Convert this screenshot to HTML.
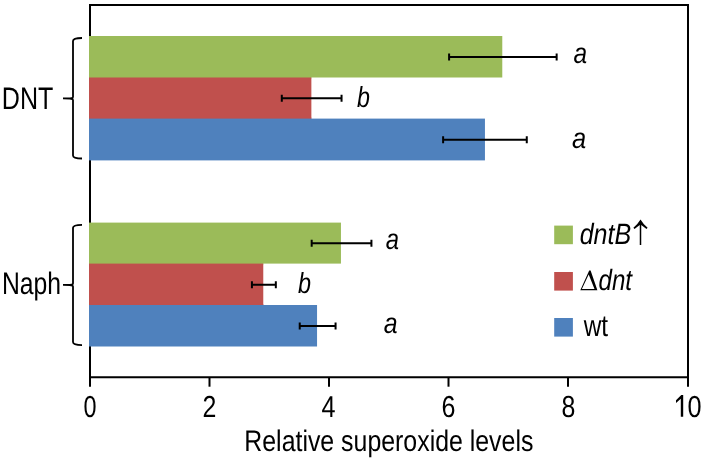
<!DOCTYPE html>
<html><head><meta charset="utf-8"><style>
html,body{margin:0;padding:0;background:#fff;width:705px;height:462px;overflow:hidden}
svg{display:block;will-change:transform}
text{font-family:"Liberation Sans",sans-serif;fill:#000;text-rendering:geometricPrecision}
</style></head><body>
<svg width="705" height="462" viewBox="0 0 705 462">
<rect width="705" height="462" fill="#fff"/>
<path d="M90,377.3 V5 H688 V377.3 H90" fill="none" stroke="#000" stroke-width="2"/>
<line x1="90.00" y1="377" x2="90.00" y2="386.7" stroke="#000" stroke-width="2"/>
<line x1="209.50" y1="377" x2="209.50" y2="386.7" stroke="#000" stroke-width="2"/>
<line x1="329.00" y1="377" x2="329.00" y2="386.7" stroke="#000" stroke-width="2"/>
<line x1="448.50" y1="377" x2="448.50" y2="386.7" stroke="#000" stroke-width="2"/>
<line x1="568.00" y1="377" x2="568.00" y2="386.7" stroke="#000" stroke-width="2"/>
<line x1="688.00" y1="377" x2="688.00" y2="386.7" stroke="#000" stroke-width="2"/>
<rect x="89" y="36" width="413.28" height="41.5" fill="#9BBB59"/>
<rect x="89" y="76.5" width="222.37" height="2" fill="#9BBB59"/>
<rect x="89" y="77.5" width="222.37" height="41.1" fill="#C0504D"/>
<rect x="89" y="117.6" width="222.37" height="2" fill="#C0504D"/>
<rect x="89" y="118.6" width="395.95" height="41.8" fill="#4F81BD"/>
<rect x="89" y="222.6" width="251.95" height="41.0" fill="#9BBB59"/>
<rect x="89" y="262.6" width="174.27" height="2" fill="#9BBB59"/>
<rect x="89" y="263.6" width="174.27" height="41.4" fill="#C0504D"/>
<rect x="89" y="304" width="174.27" height="2" fill="#C0504D"/>
<rect x="89" y="305" width="228.05" height="41.5" fill="#4F81BD"/>
<path d="M449.10,57 H556.65 M449.10,53.5 V60.5 M556.65,53.5 V60.5" stroke="#000" stroke-width="2" fill="none"/>
<path d="M281.80,98.2 H341.55 M281.80,94.7 V101.7 M341.55,94.7 V101.7" stroke="#000" stroke-width="2" fill="none"/>
<path d="M443.12,139.7 H526.77 M443.12,136.2 V143.2 M526.77,136.2 V143.2" stroke="#000" stroke-width="2" fill="none"/>
<path d="M311.68,243.2 H371.43 M311.68,239.7 V246.7 M371.43,239.7 V246.7" stroke="#000" stroke-width="2" fill="none"/>
<path d="M251.92,284.8 H275.83 M251.92,281.3 V288.3 M275.83,281.3 V288.3" stroke="#000" stroke-width="2" fill="none"/>
<path d="M299.73,325.9 H335.57 M299.73,322.4 V329.4 M335.57,322.4 V329.4" stroke="#000" stroke-width="2" fill="none"/>
<path d="M82,38 C76,38 73,38.5 73,41 V96.9 C73,98.4 72,98.4 63,98.4 M63,98.4 C72,98.4 73,98.4 73,99.9 V155.5 C73,158.0 76,158.5 82,158.5" stroke="#000" stroke-width="1.8" fill="none"/>
<path d="M82,224.8 C76,224.8 73,225.3 73,227.8 V283.4 C73,284.9 72,284.9 63,284.9 M63,284.9 C72,284.9 73,284.9 73,286.4 V342.1 C73,344.6 76,345.1 82,345.1" stroke="#000" stroke-width="1.8" fill="none"/>
<rect x="554.2" y="225.6" width="18.7" height="18.6" fill="#9BBB59"/>
<rect x="554.2" y="272" width="18.7" height="18.6" fill="#C0504D"/>
<rect x="554.2" y="318" width="18.7" height="18.6" fill="#4F81BD"/>
<path d="M640.5,219.6 Q637.7,224.4 633.4,227.8 L634.5,229.1 L639.75,224.9 V244.9 H641.25 V224.9 L646.5,229.1 L647.6,227.8 Q643.3,224.4 640.5,219.6 Z" fill="#000"/>
<path d="M580.3,290.3 L589.2,270.6 L590.6,270.6 L597.4,290.3 Z M581.9,289.0 L594.5,289.0 L588.7,274.6 Z" fill="#000" fill-rule="evenodd"/>
<path d="M683.2,395 L681.3,395 L676,400.2 L676,403 L680.8,398.8 L680.8,416.8 L683.2,416.8 Z" fill="#000"/>
<text transform="translate(1.79,108.6) scale(0.8033,1)" font-size="31.2">DNT</text>
<text transform="translate(1.92,294.1) scale(0.7929,1)" font-size="31.2">Naph</text>
<text transform="translate(244.31,450.6) scale(0.8350,1)" font-size="29.8">Relative superoxide levels</text>
<text transform="translate(83.43,416.6) scale(0.7724,1)" font-size="30.3">0</text>
<text transform="translate(202.57,416.6) scale(0.8218,1)" font-size="30.3">2</text>
<text transform="translate(321.48,416.6) scale(0.8328,1)" font-size="30.3">4</text>
<text transform="translate(441.56,416.6) scale(0.8286,1)" font-size="30.3">6</text>
<text transform="translate(561.47,416.6) scale(0.8211,1)" font-size="30.3">8</text>
<text transform="translate(687.46,416.6) scale(0.8345,1)" font-size="30.3">0</text>
<text transform="translate(573.47,63.2) scale(0.8421,1)" font-size="29.0" font-style="italic">a</text>
<text transform="translate(356.90,106.8) scale(0.8000,1)" font-size="29.0" font-style="italic">b</text>
<text transform="translate(571.94,148.0) scale(0.8772,1)" font-size="29.0" font-style="italic">a</text>
<text transform="translate(385.78,248.7) scale(0.8211,1)" font-size="29.0" font-style="italic">a</text>
<text transform="translate(298.00,293.1) scale(0.8068,1)" font-size="29.0" font-style="italic">b</text>
<text transform="translate(383.66,332.8) scale(0.8561,1)" font-size="29.0" font-style="italic">a</text>
<text transform="translate(579.65,243.9) scale(0.8549,1)" font-size="29.3" font-style="italic">dntB</text>
<text transform="translate(598.48,290.3) scale(0.8245,1)" font-size="29.3" font-style="italic">dnt</text>
<text transform="translate(583.70,336.3) scale(0.8134,1)" font-size="30.0">wt</text>
</svg>
</body></html>
